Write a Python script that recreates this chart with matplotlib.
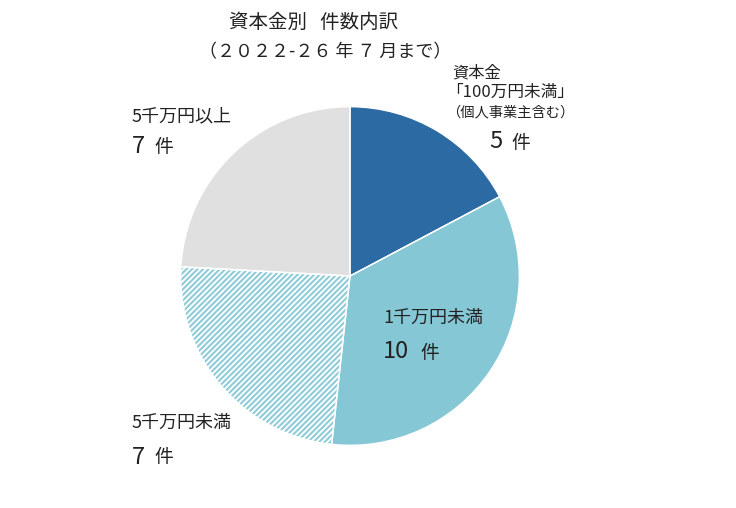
import matplotlib
matplotlib.use('Agg')
import matplotlib.pyplot as plt

plt.rcParams['font.family'] = ['Noto Sans CJK JP', 'DejaVu Sans']
plt.rcParams['hatch.linewidth'] = 1.5

# data
labels = ['資本金「100万円未満」', '1千万円未満', '5千万円未満', '5千万円以上']
counts = [5, 10, 7, 7]
colors = ['#2b6aa2', '#85c7d4', '#ffffff', '#e0e0e0']

W, H = 736, 508
fig = plt.figure(figsize=(W / 100, H / 100), dpi=100)

def px(x, y):
    return x / W, 1 - y / H

ax = fig.add_axes([179 / W, 61 / H, 342 / W, 342 / H])
wedges, _ = ax.pie(counts, colors=colors, startangle=90, counterclock=False,
                   radius=1, wedgeprops=dict(linewidth=0))
wedges[2].set_hatch('//////')
wedges[2].set_edgecolor('#8fcbd8')
wedges[2].set_linewidth(0)
# white separators
ax.pie(counts, colors=['none'] * 4, startangle=90, counterclock=False, radius=1,
       wedgeprops=dict(linewidth=1, edgecolor='white', fill=False))
ax.set_xlim(-1.01, 1.01)
ax.set_ylim(-1.01, 1.01)
ax.set_aspect('equal')
ax.axis('off')

tc = '#222222'
fig.text(*px(314, 22), '資本金別   件数内訳', fontsize=14, ha='center', va='center', color=tc)
fig.text(*px(325, 52), '（２０２２-２６ 年 ７ 月まで）', fontsize=13, ha='center', va='center', color=tc)

fig.text(*px(452, 73), '資本金', fontsize=11.7, ha='left', va='center', color=tc)
fig.text(*px(446, 92), '「100万円未満」', fontsize=12, ha='left', va='center', color=tc)
fig.text(*px(446, 112), '（個人事業主含む）', fontsize=10.3, ha='left', va='center', color=tc)

def count_label(x, y, n):
    fig.text(*px(x, y), str(n), fontsize=17, ha='left', va='center', color=tc)
    off = 15 * len(str(n)) + 7
    fig.text(*px(x + off, y + 1), '件', fontsize=13.5, ha='left', va='center', color=tc)

fig.text(*px(132, 116), '5千万円以上', fontsize=13, ha='left', va='center', color=tc)
count_label(132, 147, counts[3])

count_label(489, 142, counts[0])

fig.text(*px(383, 318), '1千万円未満', fontsize=13, ha='left', va='center', color=tc)
count_label(383, 352, counts[1])

fig.text(*px(132, 423), '5千万円未満', fontsize=13, ha='left', va='center', color=tc)
count_label(132, 457, counts[2])

fig.savefig('out.png', dpi=100, facecolor='white')
